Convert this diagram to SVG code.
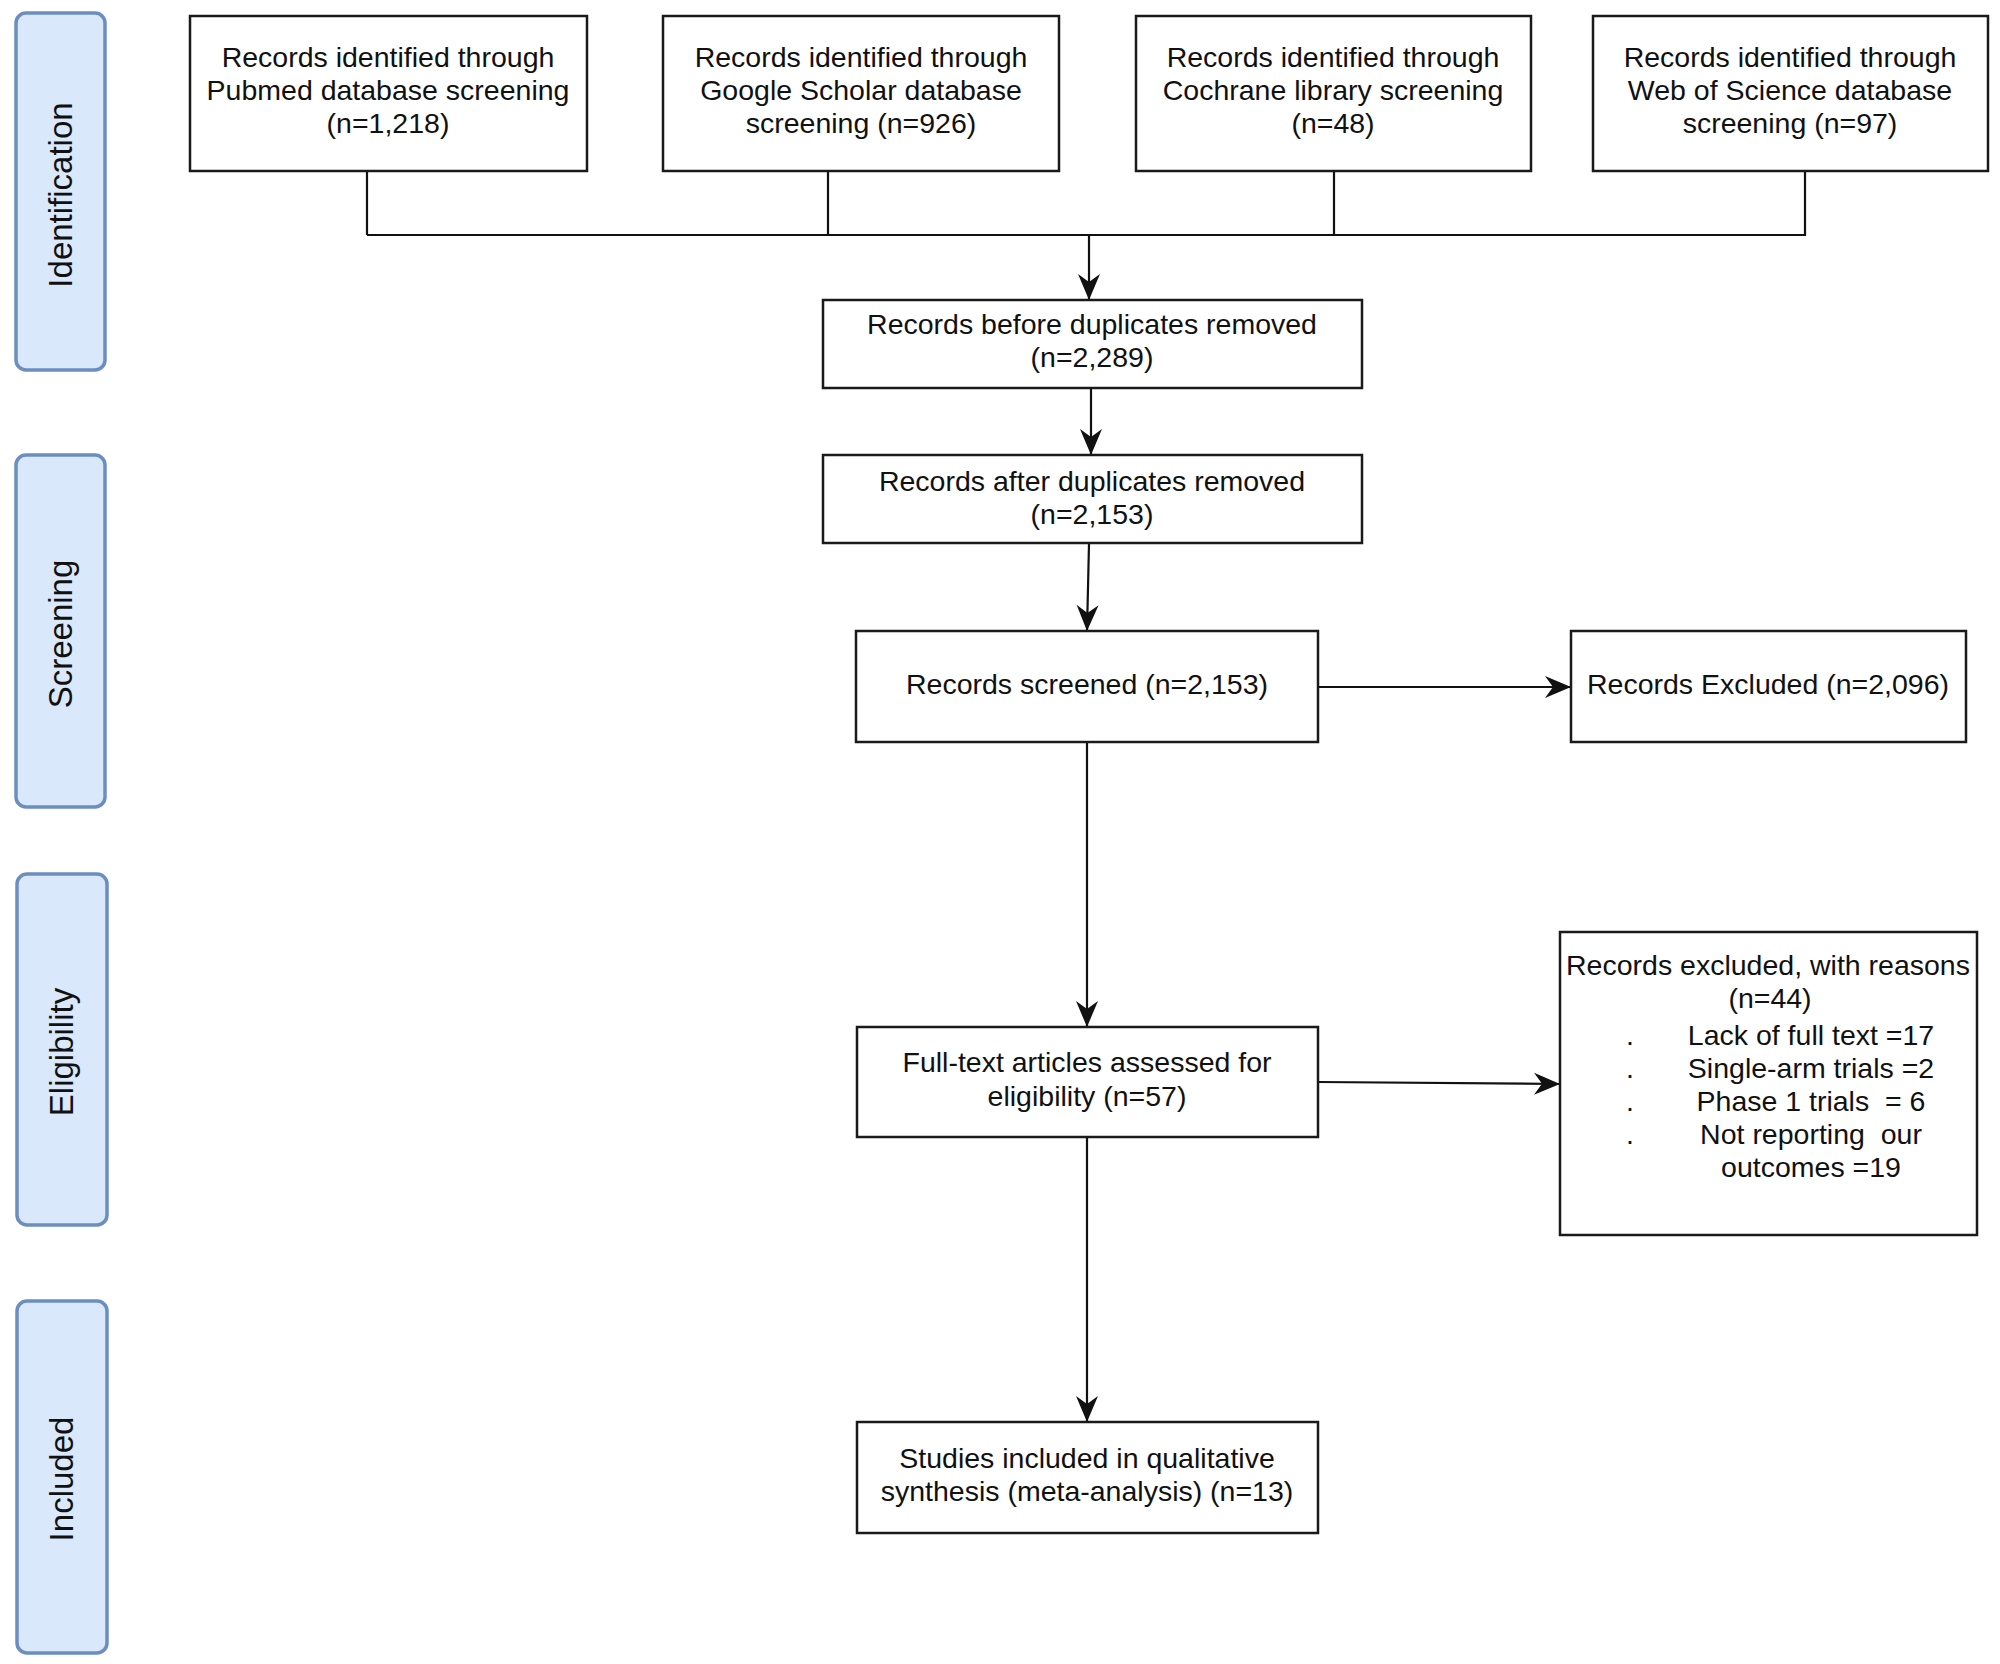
<svg xmlns="http://www.w3.org/2000/svg" width="2000" height="1664" viewBox="0 0 2000 1664">
<style>
.lane{fill:#dae8fc;stroke:#6c8ebf;stroke-width:3.5}
.box{fill:#ffffff;stroke:#1a1a1a;stroke-width:2.5}
.t{font-family:"Liberation Sans",Arial,sans-serif;font-size:28.5px;fill:#111;text-anchor:middle}
.lt{font-family:"Liberation Sans",Arial,sans-serif;font-size:33px;fill:#111;text-anchor:middle}
.ln{fill:none;stroke:#111;stroke-width:2.2}
</style>
<defs>
<marker id="arr" markerWidth="30" markerHeight="26" refX="26" refY="13" orient="auto" markerUnits="userSpaceOnUse" viewBox="0 0 30 26">
<path d="M0,2 L26,13 L0,24 L8,13 Z" fill="#111"/>
</marker>
</defs>
<rect width="2000" height="1664" fill="#ffffff"/>

<g id="lane-identification">
<rect class="lane" x="16" y="13" width="89" height="357" rx="10"/>
<text class="lt" transform="translate(72,195) rotate(-90)">Identification</text>
</g>
<g id="lane-screening">
<rect class="lane" x="16" y="455" width="89" height="352" rx="10"/>
<text class="lt" transform="translate(72,634) rotate(-90)">Screening</text>
</g>
<g id="lane-eligibility">
<rect class="lane" x="17" y="874" width="90" height="351" rx="10"/>
<text class="lt" transform="translate(73,1052) rotate(-90)">Eligibility</text>
</g>
<g id="lane-included">
<rect class="lane" x="17" y="1301" width="90" height="352" rx="10"/>
<text class="lt" transform="translate(73,1479) rotate(-90)">Included</text>
</g>

<g id="connectors">
<path class="ln" d="M367,171 V235"/>
<path class="ln" d="M828,171 V235"/>
<path class="ln" d="M1334,171 V236"/>
<path class="ln" d="M1805,171 V236"/>
<path class="ln" d="M367,235 H1805"/>
<path class="ln" d="M1089,235 V300" marker-end="url(#arr)"/>
<path class="ln" d="M1091,388 V455" marker-end="url(#arr)"/>
<path class="ln" d="M1089,544 L1087,631" marker-end="url(#arr)"/>
<path class="ln" d="M1318,687 H1571" marker-end="url(#arr)"/>
<path class="ln" d="M1087,742 V1027" marker-end="url(#arr)"/>
<path class="ln" d="M1318,1082 L1560,1084" marker-end="url(#arr)"/>
<path class="ln" d="M1087,1137 V1422" marker-end="url(#arr)"/>
</g>

<g id="pubmed">
<rect class="box" x="190" y="16" width="397" height="155"/>
<text class="t" x="388" y="67">Records identified through</text>
<text class="t" x="388" y="100">Pubmed database screening</text>
<text class="t" x="388" y="133">(n=1,218)</text>
</g>
<g id="google">
<rect class="box" x="663" y="16" width="396" height="155"/>
<text class="t" x="861" y="67">Records identified through</text>
<text class="t" x="861" y="100">Google Scholar database</text>
<text class="t" x="861" y="133">screening (n=926)</text>
</g>
<g id="cochrane">
<rect class="box" x="1136" y="16" width="395" height="155"/>
<text class="t" x="1333" y="67">Records identified through</text>
<text class="t" x="1333" y="100">Cochrane library screening</text>
<text class="t" x="1333" y="133">(n=48)</text>
</g>
<g id="wos">
<rect class="box" x="1593" y="16" width="395" height="155"/>
<text class="t" x="1790" y="67">Records identified through</text>
<text class="t" x="1790" y="100">Web of Science database</text>
<text class="t" x="1790" y="133">screening (n=97)</text>
</g>
<g id="before-dup">
<rect class="box" x="823" y="300" width="539" height="88"/>
<text class="t" x="1092" y="334">Records before duplicates removed</text>
<text class="t" x="1092" y="367">(n=2,289)</text>
</g>
<g id="after-dup">
<rect class="box" x="823" y="455" width="539" height="88"/>
<text class="t" x="1092" y="491">Records after duplicates removed</text>
<text class="t" x="1092" y="524">(n=2,153)</text>
</g>
<g id="screened">
<rect class="box" x="856" y="631" width="462" height="111"/>
<text class="t" x="1087" y="694">Records screened (n=2,153)</text>
</g>
<g id="excluded">
<rect class="box" x="1571" y="631" width="395" height="111"/>
<text class="t" x="1768" y="694">Records Excluded (n=2,096)</text>
</g>
<g id="fulltext">
<rect class="box" x="857" y="1027" width="461" height="110"/>
<text class="t" x="1087" y="1072">Full-text articles assessed for</text>
<text class="t" x="1087" y="1106">eligibility (n=57)</text>
</g>
<g id="excluded-reasons">
<rect class="box" x="1560" y="932" width="417" height="303"/>
<text class="t" x="1768" y="975">Records excluded, with reasons</text>
<text class="t" x="1770" y="1008">(n=44)</text>
<text class="t" x="1630" y="1045">.</text>
<text class="t" x="1811" y="1045">Lack of full text =17</text>
<text class="t" x="1630" y="1078">.</text>
<text class="t" x="1811" y="1078">Single-arm trials =2</text>
<text class="t" x="1630" y="1111">.</text>
<text class="t" x="1811" y="1111" xml:space="preserve">Phase 1 trials  = 6</text>
<text class="t" x="1630" y="1144">.</text>
<text class="t" x="1811" y="1144" xml:space="preserve">Not reporting  our</text>
<text class="t" x="1811" y="1177">outcomes =19</text>
</g>
<g id="included">
<rect class="box" x="857" y="1422" width="461" height="111"/>
<text class="t" x="1087" y="1468">Studies included in qualitative</text>
<text class="t" x="1087" y="1501">synthesis (meta-analysis) (n=13)</text>
</g>
</svg>
